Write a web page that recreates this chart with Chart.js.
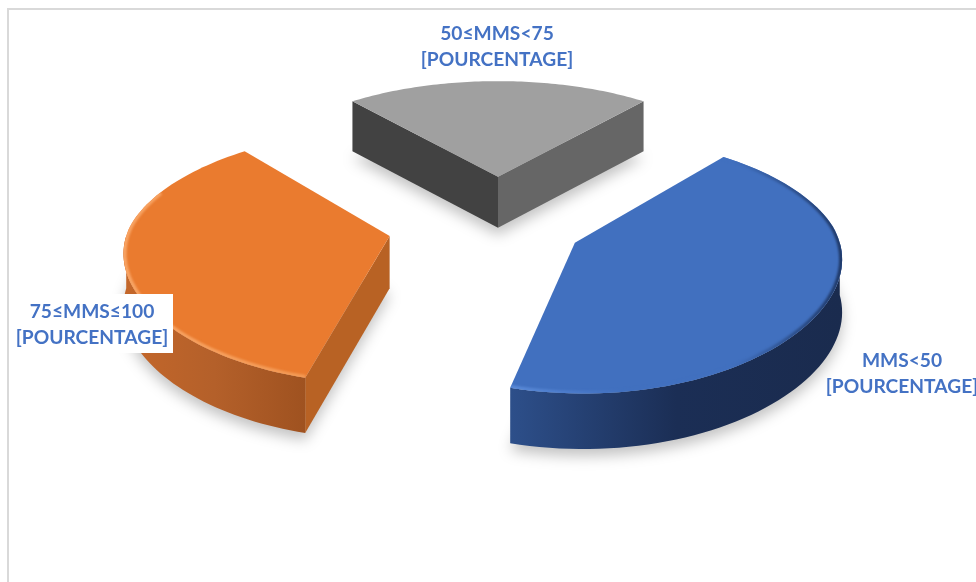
<!DOCTYPE html>
<html lang="fr">
<head>
<meta charset="utf-8">
<title>MMS</title>
<script src="https://cdn.jsdelivr.net/npm/chart.js@4/dist/chart.umd.min.js"></script>
<style>
    html, body { margin: 0; padding: 0; background: #fff; overflow: hidden; }
    #cadre { position: absolute; left: 7px; top: 8px; right: 0; bottom: 0; border-left: 2px solid #d9d9d9; border-top: 2px solid #d9d9d9; }
    #graphique { position: absolute; left: 0; top: 0; display: block; }
</style>
</head>
<body>
<div id="cadre"></div>
<canvas id="graphique" width="976" height="582"></canvas>
<script>
const categories = ['MMS<50', '75≤MMS≤100', '50≤MMS<75'];
const parts = [43, 35, 22];
const valueLabel = '[POURCENTAGE]';

// where each label sits, same order as categories
const labelSpots = [
    { x: 902, y: 361 },
    { x: 92, y: 312, box: { x: 10, y: 294, w: 163, h: 59 } },
    { x: 497, y: 34 }
];

const sliceColors = ['#4170bf', '#ea7b2f', '#a0a0a0'];
const wallStops = [
    ['#2d4f8a', '#1b2e55', '#1a2b4e'],
    ['#c4672a', '#b4602a', '#9f5220'],
    null
];
const rimStops = [
    ['#5a8ad8', '#4170bf', '#4170bf', '#1f3866'],
    ['#f8a566', '#f6a05e', '#f39a55'],
    null
];
// how far round the back the rim highlight runs (sine of the angle)
const rimFrom = [-1, -0.4, 0];
// cut faces: first is the one on the start angle, second on the end angle
const faceColors = [
    [null, null],
    ['#b86224', null],
    ['#424242', '#666666']
];
const explode = [85, 110, 113];

const thickness = 52;
const cameraBack = 2200;
const cameraWide = 2600;
const cameraNear = 1500;
const tilt = 0.45;

function project(el, wx, wy, z) {
    // the front half grows faster in height than in width
    const sx = wy > 0 ? cameraWide / (cameraWide - wy) : cameraBack / (cameraBack - wy);
    const sy = wy > 0 ? cameraNear / (cameraNear - wy) : sx;
    return { x: el.x + wx * sx, y: el.y + tilt * wy * sy + z * Math.pow(sy, 0.3) };
}

function slicePoint(el, r, a, z) {
    const mid = (el.startAngle + el.endAngle) / 2;
    const off = el.options.offset;
    return project(el, off * Math.cos(mid) + r * Math.cos(a), off * Math.sin(mid) + r * Math.sin(a), z);
}

function rimAngles(el) {
    const list = [];
    const n = 80;
    for (let i = 0; i <= n; i++) {
        list.push(el.startAngle + (el.endAngle - el.startAngle) * i / n);
    }
    return list;
}

function tracePoints(ctx, pts) {
    pts.forEach((p, i) => (i ? ctx.lineTo(p.x, p.y) : ctx.moveTo(p.x, p.y)));
}

function horizontalGradient(ctx, pts, stops) {
    const xs = pts.map(p => p.x);
    const grad = ctx.createLinearGradient(Math.min(...xs), 0, Math.max(...xs), 0);
    stops.forEach((c, i) => grad.addColorStop(i / (stops.length - 1), c));
    return grad;
}

function drawShadow(ctx, el) {
    const pts = rimAngles(el).map(a => slicePoint(el, el.outerRadius, a, thickness));
    pts.push(slicePoint(el, 0, 0, thickness));
    ctx.save();
    ctx.filter = 'blur(7px)';
    ctx.translate(0, 7);
    ctx.fillStyle = 'rgba(0,0,0,0.24)';
    ctx.beginPath();
    tracePoints(ctx, pts);
    ctx.closePath();
    ctx.fill();
    ctx.restore();
}

function drawFace(ctx, el, a, color) {
    if (!color) return;
    const r = el.outerRadius;
    ctx.fillStyle = color;
    ctx.beginPath();
    tracePoints(ctx, [slicePoint(el, 0, 0, 0), slicePoint(el, r, a, 0), slicePoint(el, r, a, thickness), slicePoint(el, 0, 0, thickness)]);
    ctx.closePath();
    ctx.fill();
}

function drawSlice(ctx, el, i) {
    const r = el.outerRadius;
    drawFace(ctx, el, el.startAngle, faceColors[i][0]);
    drawFace(ctx, el, el.endAngle, faceColors[i][1]);

    // outer wall, only the part turned to the viewer
    const front = rimAngles(el).filter(a => Math.sin(a) > -0.02);
    if (wallStops[i] && front.length) {
        const top = front.map(a => slicePoint(el, r, a, 0));
        const bottom = front.map(a => slicePoint(el, r, a, thickness)).reverse();
        ctx.fillStyle = horizontalGradient(ctx, top, wallStops[i]);
        ctx.beginPath();
        tracePoints(ctx, top.concat(bottom));
        ctx.closePath();
        ctx.fill();
    }

    // top of the slice
    const rim = rimAngles(el).map(a => slicePoint(el, r, a, 0));
    ctx.fillStyle = el.options.backgroundColor;
    ctx.beginPath();
    tracePoints(ctx, rim.concat([slicePoint(el, 0, 0, 0)]));
    ctx.closePath();
    ctx.fill();

    // rounded edge along the rim, kept inside the top
    if (rimStops[i]) {
        const edge = rimAngles(el).filter(a => Math.sin(a) > rimFrom[i]).map(a => slicePoint(el, r - 1, a, 0));
        ctx.save();
        ctx.beginPath();
        tracePoints(ctx, rim.concat([slicePoint(el, 0, 0, 0)]));
        ctx.closePath();
        ctx.clip();
        ctx.filter = 'blur(1px)';
        ctx.strokeStyle = horizontalGradient(ctx, edge, rimStops[i]);
        ctx.lineWidth = 4;
        ctx.beginPath();
        tracePoints(ctx, edge);
        ctx.stroke();
        ctx.restore();
    }
}

function drawLabels(ctx) {
    ctx.textAlign = 'center';
    ctx.textBaseline = 'middle';
    ctx.font = 'bold 19.2px Lato, "Open Sans", sans-serif';
    categories.forEach((name, i) => {
        const spot = labelSpots[i];
        if (spot.box) {
            ctx.fillStyle = '#fff';
            ctx.fillRect(spot.box.x, spot.box.y, spot.box.w, spot.box.h);
        }
        ctx.fillStyle = '#4472c4';
        ctx.fillText(name, spot.x, spot.y);
        ctx.fillText(valueLabel, spot.x, spot.y + 26);
    });
}

// Chart.js keeps the angles and radii, this plugin paints them as raised slices
const slices3d = {
    id: 'slices3d',
    beforeDatasetsDraw(chart) {
        const ctx = chart.ctx;
        const arcs = chart.getDatasetMeta(0).data;
        const order = [2, 1, 0];
        order.forEach(i => drawShadow(ctx, arcs[i]));
        order.forEach(i => drawSlice(ctx, arcs[i], i));
        drawLabels(ctx);
        return false;
    }
};

new Chart(document.getElementById('graphique'), {
    type: 'pie',
    data: {
        labels: categories,
        datasets: [{
            data: parts,
            backgroundColor: sliceColors,
            borderWidth: 0,
            offset: explode
        }]
    },
    options: {
        responsive: false,
        animation: false,
        rotation: 39.6,
        radius: 261,
        layout: { padding: { left: 20, bottom: 132 } },
        plugins: { legend: { display: false }, tooltip: { enabled: false } }
    },
    plugins: [slices3d]
});
</script>
</body>
</html>
